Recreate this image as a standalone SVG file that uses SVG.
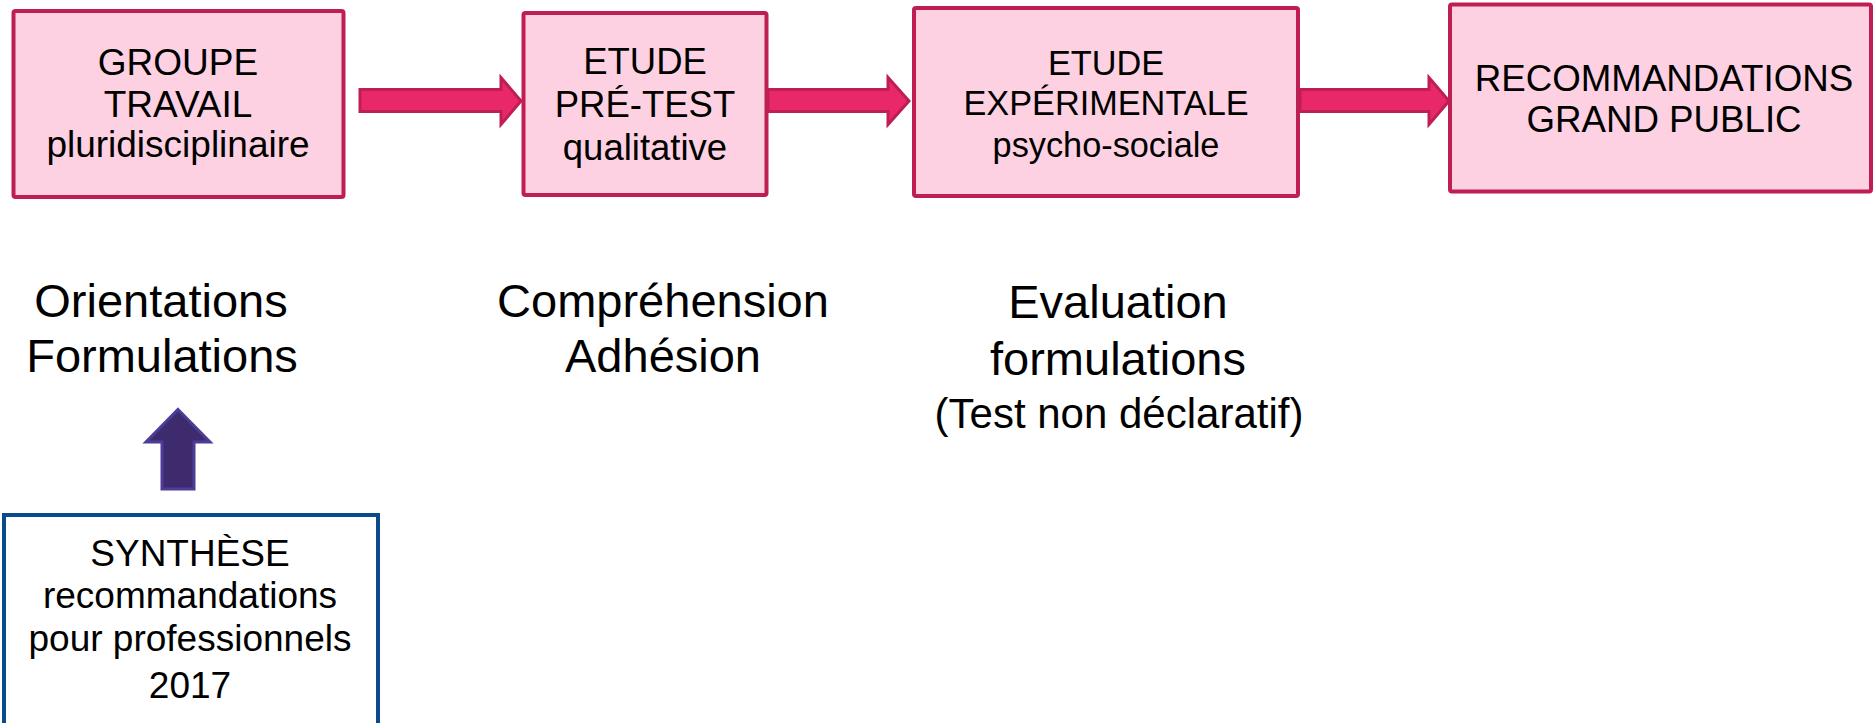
<svg xmlns="http://www.w3.org/2000/svg" width="1874" height="723" viewBox="0 0 1874 723">
<style>
text{font-family:"Liberation Sans",Arial,sans-serif;fill:#000;text-anchor:middle}
.box{fill:#FDD1E1;stroke:#BE1E52;stroke-width:4}
.arr{fill:#E9286A;stroke:#BE1E52;stroke-width:3;stroke-linejoin:miter}
.blue{fill:#fff;stroke:#0A4B8C;stroke-width:4}
.up{fill:#3E2B6E;stroke:#4E3C99;stroke-width:3}
</style>
<rect width="1874" height="723" fill="#fff"/>
<g id="connectors">
<polygon class="arr" points="360,89.5 501,89.5 501,77.5 521,101 501,124.5 501,111.5 360,111.5"/>
<polygon class="arr" points="768,89.5 888,89.5 888,77.5 909,101 888,124.5 888,111.5 768,111.5"/>
<polygon class="arr" points="1300,89.5 1429,89.5 1429,77.5 1449,101 1429,124.5 1429,111.5 1300,111.5"/>
<polygon class="up" points="178,409.5 210,442 194,442 194,489 162,489 162,442 146,442"/>
</g>
<g id="n1">
<rect class="box" x="13.5" y="11" width="330" height="186" rx="2"/>
<text font-size="37" x="178" y="75">GROUPE</text>
<text font-size="37" x="178" y="117">TRAVAIL</text>
<text font-size="37" x="178" y="157">pluridisciplinaire</text>
</g>
<g id="n2">
<rect class="box" x="523.5" y="13" width="243" height="182" rx="2"/>
<text font-size="36.5" x="645" y="74">ETUDE</text>
<text font-size="36.5" x="645" y="117">PRÉ-TEST</text>
<text font-size="36.5" x="645" y="160">qualitative</text>
</g>
<g id="n3">
<rect class="box" x="914" y="8" width="384" height="188" rx="2"/>
<text font-size="34.3" x="1106" y="75">ETUDE</text>
<text font-size="34.3" x="1106" y="115">EXPÉRIMENTALE</text>
<text font-size="34.3" x="1106" y="157">psycho-sociale</text>
</g>
<g id="n4">
<rect class="box" x="1450" y="4.5" width="421" height="187" rx="2"/>
<text font-size="36.7" x="1664" y="91">RECOMMANDATIONS</text>
<text font-size="36.7" x="1664" y="132">GRAND PUBLIC</text>
</g>
<g id="l1">
<text font-size="47" x="161" y="317">Orientations</text>
<text font-size="47" x="162" y="372">Formulations</text>
</g>
<g id="l2">
<text font-size="47" x="663" y="317">Compréhension</text>
<text font-size="47" x="663" y="372">Adhésion</text>
</g>
<g id="l3">
<text font-size="47" x="1118" y="318">Evaluation</text>
<text font-size="47" x="1118" y="375">formulations</text>
<text font-size="42" x="1119" y="428">(Test non déclaratif)</text>
</g>
<g id="n5">
<rect class="blue" x="4" y="515" width="374" height="230"/>
<text font-size="37" x="190" y="566">SYNTHÈSE</text>
<text font-size="37" x="190" y="608">recommandations</text>
<text font-size="37" x="190" y="651">pour professionnels</text>
<text font-size="37" x="190" y="698">2017</text>
</g>
</svg>
